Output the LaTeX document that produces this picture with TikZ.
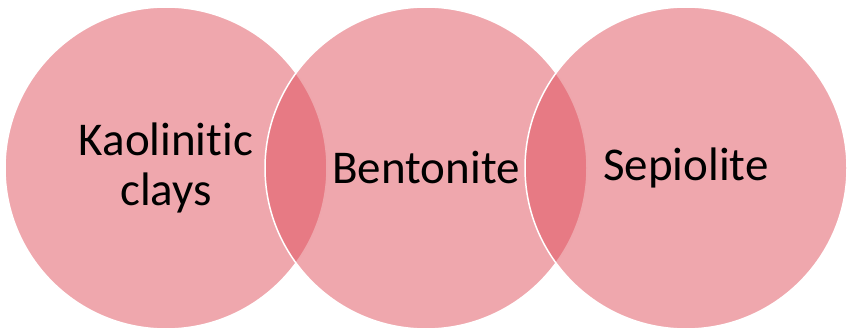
\documentclass[tikz,border=0pt]{standalone}
\usepackage{fontspec}
\setmainfont[Ligatures=NoCommon]{Carlito}
\usepackage{tikz}
\definecolor{clayrose}{RGB}{223,79,91}
\tikzset{
  venn/.style={
    circle,
    minimum size=322pt,
    inner sep=0pt,
    fill=clayrose,
    fill opacity=.5,
    text opacity=1,
    draw=white,
    line width=1.5pt,
    align=center,
    font=\fontsize{47}{50}\selectfont
  }
}
\begin{document}
\begin{tikzpicture}[x=1pt,y=1pt]
\useasboundingbox (0,0) rectangle (847,330);
\node[venn] (kaolin) at (166,162) {Kaolinitic\\clays};
\node[venn] (bento) at (426,162) {Bentonite};
\node[venn] (sepio) at (686,162) {Sepiolite};
\end{tikzpicture}
\end{document}
